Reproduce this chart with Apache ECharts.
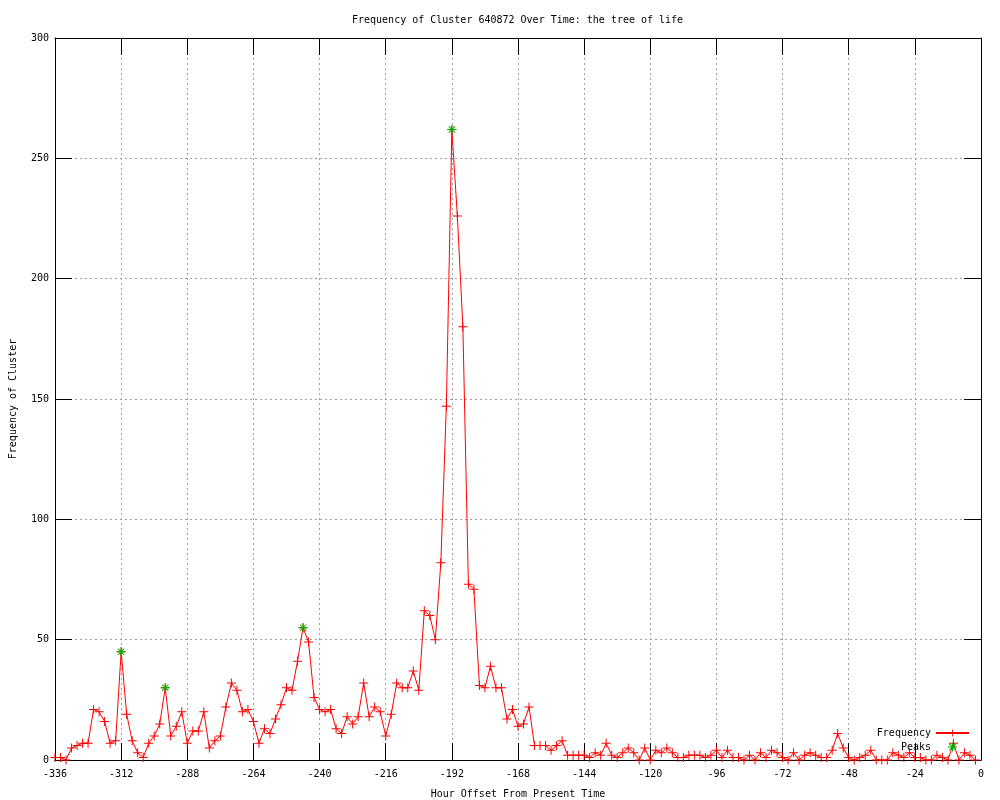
<!DOCTYPE html>
<html>
<head>
<meta charset="utf-8">
<script src="https://cdn.jsdelivr.net/npm/echarts@6/dist/echarts.min.js"></script>
<style>html,body{margin:0;padding:0;background:#fff}#c{width:1000px;height:800px}</style>
</head>
<body>
<div id="c"></div>
<script>
const hours = [-336,-334,-332,-330,-328,-326,-324,-322,-320,-318,-316,-314,-312,-310,-308,-306,-304,-302,-300,-298,-296,-294,-292,-290,-288,-286,-284,-282,-280,-278,-276,-274,-272,-270,-268,-266,-264,-262,-260,-258,-256,-254,-252,-250,-248,-246,-244,-242,-240,-238,-236,-234,-232,-230,-228,-226,-224,-222,-220,-218,-216,-214,-212,-210,-208,-206,-204,-202,-200,-198,-196,-194,-192,-190,-188,-186,-184,-182,-180,-178,-176,-174,-172,-170,-168,-166,-164,-162,-160,-158,-156,-154,-152,-150,-148,-146,-144,-142,-140,-138,-136,-134,-132,-130,-128,-126,-124,-122,-120,-118,-116,-114,-112,-110,-108,-106,-104,-102,-100,-98,-96,-94,-92,-90,-88,-86,-84,-82,-80,-78,-76,-74,-72,-70,-68,-66,-64,-62,-60,-58,-56,-54,-52,-50,-48,-46,-44,-42,-40,-38,-36,-34,-32,-30,-28,-26,-24,-22,-20,-18,-16,-14,-12,-10,-8,-6,-4,-2];
const frequency = [1,1,0,5,6,7,7,21,20,16,7,8,45,19,8,3,1,7,10,15,30,10,14,20,7,12,12,20,5,8,10,22,32,29,20,21,16,7,13,11,17,23,30,29,41,55,49,26,21,20,21,13,11,18,15,18,32,18,22,20,10,19,32,30,30,37,29,62,60,50,82,147,262,226,180,73,71,31,30,39,30,30,17,21,14,15,22,6,6,6,4,6,8,2,2,2,2,1,3,2,7,2,1,3,5,3,0,5,0,4,3,5,3,1,1,2,2,2,1,2,4,1,4,1,1,0,2,0,3,1,4,3,1,0,3,0,2,3,2,1,1,4,11,5,1,0,1,2,4,0,0,0,3,2,1,3,1,1,0,0,2,1,0,7,0,3,2,0];
const peakHours = [-312,-296,-246,-192];
const peakValues = [45,30,55,262];
const xTicks = [-336,-312,-288,-264,-240,-216,-192,-168,-144,-120,-96,-72,-48,-24,0];
const yTicks = [0,50,100,150,200,250,300];

const FONT = 'DejaVu Sans Mono';
const plusPath = 'path://M4,0h1v9h-1zM0,4h9v1h-9z';
const starPath = 'path://M4,0h1v9h-1zM0,4h9v1h-9zM1,1.7L1.7,1L8,7.3L7.3,8zM7.3,1L8,1.7L1.7,8L1,7.3z';

const freqData = hours.map((h, i) => [h, frequency[i]]);
const peakData = peakHours.map((h, i) => [h, peakValues[i]]);

const gridLine = {show: true, lineStyle: {color: '#a0a0a0', width: 1, type: [2, 3]}};
const label = {fontFamily: FONT, fontSize: 10, color: '#000'};

const chart = echarts.init(document.getElementById('c'), null, {renderer: 'canvas'});
chart.setOption({
  animation: false,
  backgroundColor: '#fff',
  title: {
    text: 'Frequency of Cluster 640872 Over Time: the tree of life',
    left: 352, top: 15, padding: 0,
    textStyle: {fontFamily: FONT, fontSize: 10, fontWeight: 'normal', color: '#000'}
  },
  grid: {left: 55, top: 38, width: 926, height: 722, containLabel: false, outerBoundsMode: 'none'},
  legend: {
    orient: 'vertical', right: 30, top: 728, align: 'right', padding: 0,
    itemWidth: 33, itemHeight: 9, itemGap: 4,
    textStyle: {fontFamily: FONT, fontSize: 10, color: '#000'},
    data: ['Frequency', 'Peaks']
  },
  xAxis: [{
    type: 'value', min: -336, max: 0, interval: 24, position: 'bottom',
    name: 'Hour Offset From Present Time', nameLocation: 'middle', nameGap: 29,
    nameTextStyle: label,
    axisLine: {show: true, onZero: false, lineStyle: {color: '#000', width: 1}},
    axisTick: {show: true, inside: true, length: 17, lineStyle: {color: '#000'}},
    axisLabel: Object.assign({margin: 9, formatter: v => xTicks.includes(v) ? String(v) : ''}, label),
    splitLine: gridLine
  }, {
    type: 'value', min: -336, max: 0, interval: 24, position: 'top',
    axisLine: {show: true, onZero: false, lineStyle: {color: '#000', width: 1}},
    axisTick: {show: true, inside: true, length: 17, lineStyle: {color: '#000'}},
    axisLabel: {show: false}, splitLine: {show: false}
  }],
  yAxis: [{
    type: 'value', min: 0, max: 300, interval: 50, position: 'left',
    name: 'Frequency of Cluster', nameLocation: 'middle', nameGap: 37, nameRotate: 90,
    nameTextStyle: label,
    axisLine: {show: true, onZero: false, lineStyle: {color: '#000', width: 1}},
    axisTick: {show: true, inside: true, length: 17, lineStyle: {color: '#000'}},
    axisLabel: Object.assign({margin: 6, formatter: v => yTicks.includes(v) ? String(v) : ''}, label),
    splitLine: gridLine
  }, {
    type: 'value', min: 0, max: 300, interval: 50, position: 'right',
    axisLine: {show: true, onZero: false, lineStyle: {color: '#000', width: 1}},
    axisTick: {show: true, inside: true, length: 17, lineStyle: {color: '#000'}},
    axisLabel: {show: false}, splitLine: {show: false}
  }],
  series: [{
    name: 'Frequency', type: 'line', data: freqData,
    xAxisIndex: 0, yAxisIndex: 0,
    symbol: plusPath, symbolSize: 9, showAllSymbol: true,
    lineStyle: {color: '#ff0000', width: 1},
    itemStyle: {color: '#ff0000'},
    z: 3
  }, {
    name: 'Peaks', type: 'scatter', data: peakData,
    xAxisIndex: 0, yAxisIndex: 0,
    symbol: starPath, symbolSize: 9, symbolKeepAspect: true,
    itemStyle: {color: '#00b000', opacity: 1},
    z: 4
  }]
});
</script>
</body>
</html>
